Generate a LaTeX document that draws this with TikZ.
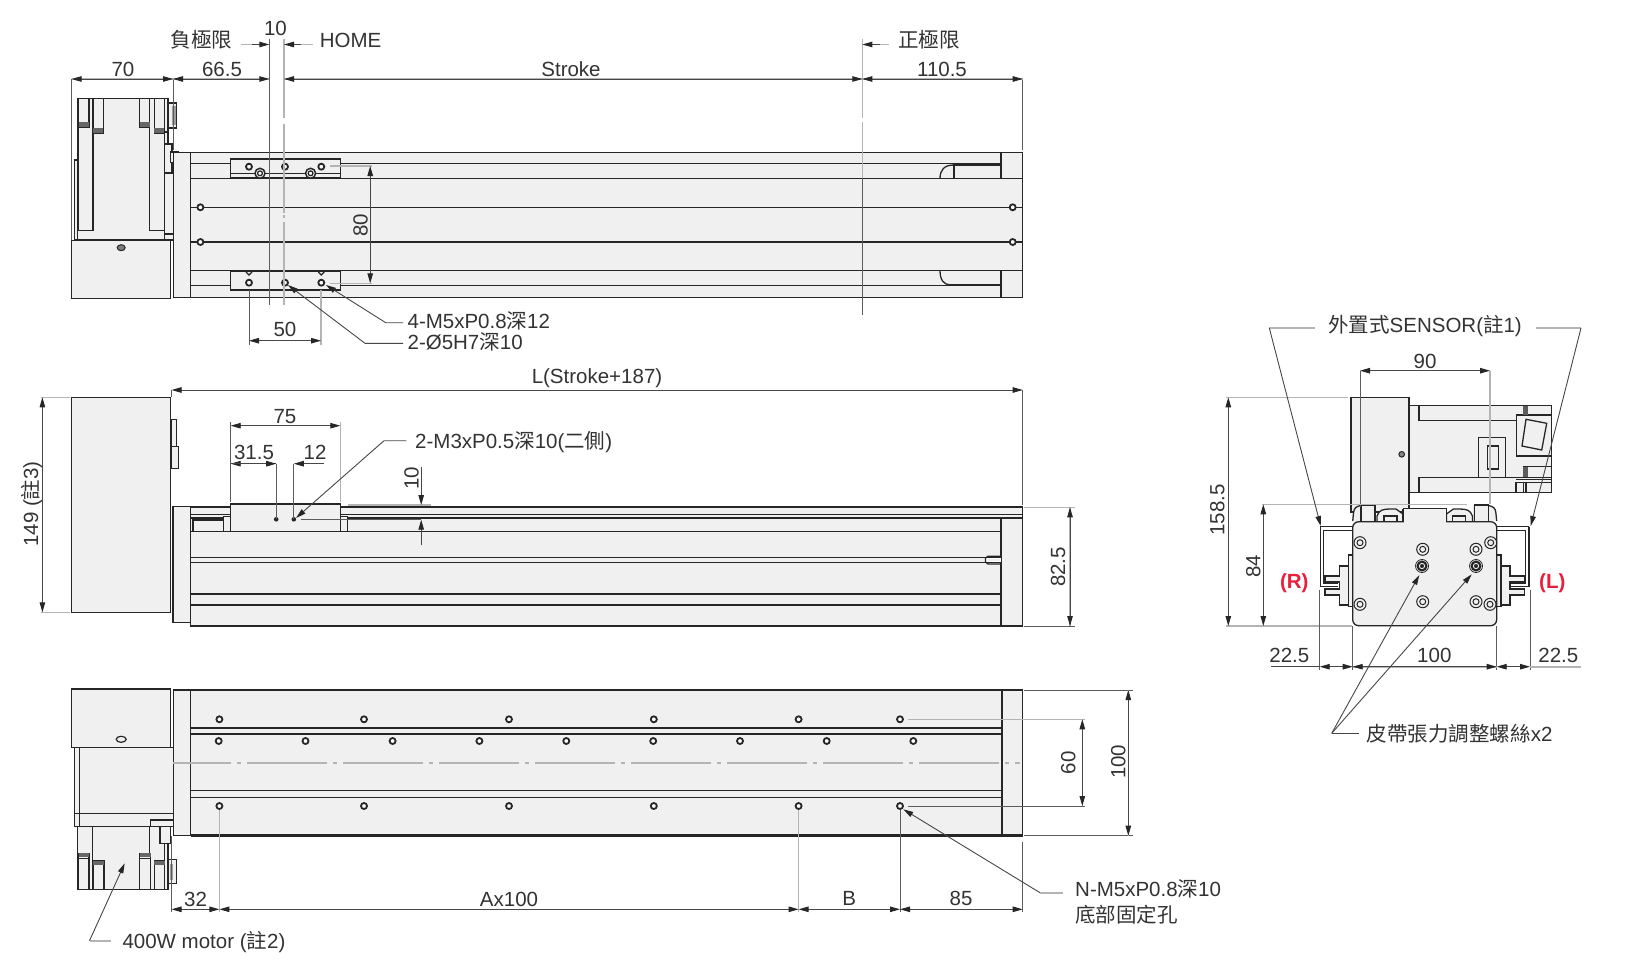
\documentclass[tikz,border=0pt]{standalone}
\usepackage{fontspec}
\setmainfont{Liberation Sans}
\newfontfamily\cjk{Noto Sans CJK TC}
\usetikzlibrary{arrows.meta}
\definecolor{ink}{HTML}{262626}
\definecolor{txt}{HTML}{333333}
\definecolor{lite}{HTML}{F0F0F0}
\definecolor{ext}{HTML}{B4B4B4}
\definecolor{redl}{HTML}{E8203C}
\tikzset{
 >={Triangle[length=10pt,width=5.5pt,color=ink]},
 part/.style={draw=ink,fill=lite,line width=1.3pt},
 ln/.style={draw=ink,line width=1.3pt},
 thk/.style={draw=ink,line width=2.4pt},
 dimk/.style={draw=txt!90,line width=0.9pt},
 ext1/.style={draw=ext,line width=1.6pt},
 ext2/.style={draw=txt!80,line width=0.8pt},
 lab/.style={font=\fontsize{20.5}{22}\selectfont,inner sep=0pt,text=txt},
 rlab/.style={lab,rotate=90},
 redlab/.style={font=\fontsize{20.5}{22}\selectfont\bfseries,inner sep=0pt,text=redl},
 hole/.style={draw=ink,fill=white,line width=1.8pt},
}
\newcommand{\hl}[2]{\draw[hole] (#1,#2) circle (3);}
\newcommand{\fdot}[2]{\fill[ink] (#1,#2) circle (2.3);}
\newcommand{\scw}[2]{\draw[draw=ink,fill=lite,line width=1pt] (#1,#2) circle (6);\draw[draw=ink,fill=lite,line width=1pt] (#1,#2) circle (3);}
\newcommand{\dscw}[2]{\draw[draw=ink,fill=ink,line width=1pt] (#1,#2) circle (5);\draw[draw=white,fill=ink,line width=.8pt] (#1,#2) circle (2.6);\draw[draw=ink,line width=.8pt] (#1,#2) circle (6.5);}
\begin{document}
\begin{tikzpicture}[x=1pt,y=-1pt]
\path[use as bounding box,fill=white] (0,0) rectangle (1626,966);

%% ================= TOP VIEW =================
% motor
\draw[part] (74.4,160) rectangle (77.8,240);
\draw[part] (77.8,98.3) rectangle (168,240);
\foreach \a/\b/\c in {78.5/88.9/127,93/103.3/133,139.5/149.8/127,154.3/164.6/133}{
  \draw[ln,fill=lite] (\a,98.3) rectangle (\b,\c);
  \fill[ink!70] (\a,\c-5) rectangle (\b,\c);
}
\draw[ln] (78.5,127)--(78.5,230.7)--(93,230.7)--(93,133);
\draw[ln] (149.8,127)--(149.8,230.7)--(164.6,230.7);
\draw[ln] (164.6,133)--(164.6,240);
\draw[part] (164.6,98.3) rectangle (168,132);
\draw[part] (168,103) rectangle (176.7,128);
\fill[ink!45] (172,106) rectangle (176,125);
\draw[part] (164.6,144) rectangle (172,173);
\draw[part] (170.5,152) rectangle (178.4,162.3);
\draw[part] (164.6,173) rectangle (173.2,240);
\draw[ln] (164.6,234)--(173.2,234);
\draw[part] (71.6,240.7) rectangle (170.8,298.3);
\draw[draw=ink,fill=ink!60,line width=1pt] (121.2,247.7) ellipse (4 and 3);
% body
\draw[part] (173.2,152.3) rectangle (1022.7,297.3);
\draw[ln] (190.5,152.3)--(190.5,297.3);
\draw[ln] (1001,152.3)--(1001,178.7) (1001,270.7)--(1001,297.3);
\draw[ln] (190.5,163.7)--(955,163.7);
\draw[ln] (190.5,178.7)--(1022.7,178.7);
\draw[ln] (190.5,207.3)--(1022.7,207.3);
\draw[ln] (190.5,242)--(1022.7,242);
\draw[ln] (190.5,270.7)--(1022.7,270.7);
\draw[ln] (190.5,285.3)--(1001,285.3);
\draw[thk] (954,164.3)--(1001,164.3);
\draw[thk] (954,164.3)--(954,178.7);
\draw[ln] (940,178.7) .. controls (940,170) and (944,165) .. (954,165);
\draw[ln] (940,270.7) .. controls (940,280) and (944,284.8) .. (950,284.8);
\draw[thk] (950,284.8)--(1001,284.8);
\foreach \x in {200.4,1012.7}{\hl{\x}{207.3}\hl{\x}{242}}
% carriage
\draw[part] (230.7,159) rectangle (340.3,177.7);
\draw[ln] (230.7,173.3)--(340.3,173.3);
\draw[part] (230.7,271.7) rectangle (340.3,290);
\foreach \x in {249,285,321.3}{\hl{\x}{166.7}\hl{\x}{282.7}}
\foreach \x in {260,310.6}{\draw[hole,line width=1.5pt] (\x,173.3) circle (5);\draw[hole,line width=1.3pt] (\x,173.3) circle (2.4);}
\foreach \x in {249,321.3}{\draw[ln] (\x-3,272)--(\x,275)--(\x+3,272);}
% extension lines
\draw[ext2] (269.3,39)--(269.3,305);
\draw[ext1] (284,39)--(284,118) (284,124)--(284,213) (284,215)--(284,218) (284,222)--(284,305);
\draw[ext1] (862.3,39)--(862.3,118);
\draw[ext1] (862.3,122)--(862.3,178);
\draw[ext2] (862.3,178)--(862.3,315);
\draw[ext2] (71.6,79)--(71.6,240);
\draw[ext2] (173.2,79)--(173.2,150);
\draw[ext2] (1022.7,79)--(1022.7,150);
\draw[ext2] (249,290)--(249,345);
\draw[ext1] (321,290)--(321,345);
% top dims
\draw[ext1] (71.6,79)--(173,79)--(269.3,79);
\draw[ext1] (284,79)--(1022.7,79);
\draw[dimk,<->] (71.6,79)--(173,79);
\draw[dimk,<->] (173,79)--(269.3,79);
\draw[dimk,<->] (284,79)--(862.3,79);
\draw[dimk,<->] (862.3,79)--(1022.7,79);
\draw[ext1] (241,44.5)--(260,44.5) (293,44.5)--(313,44.5) (872,44.5)--(889,44.5);
\draw[dimk,->] (252,44.5)--(269.3,44.5);
\draw[dimk,->] (301,44.5)--(284,44.5);
\draw[dimk,->] (880,44.5)--(862.3,44.5);
\draw[dimk,<->] (249,340.7)--(321,340.7);
\draw[ext1] (330,166)--(372,166) (330,283.3)--(372,283.3);
\draw[dimk,<->] (370.2,166)--(370.2,283.3);
\draw[dimk,->] (403,322.7)--(385.7,322.7)--(326,285);
\draw[dimk,->] (403,343.3)--(365,343.3)--(288,285);
\node[lab] (neglim) at (201.5,39.5) {\cjk 負極限};
\node[lab] (ten) at (275.5,28) {10};
\node[lab,anchor=west] (home) at (319.6,40.5) {HOME};
\node[lab,anchor=west] (poslim) at (898,39.5) {\cjk 正極限};
\node[lab] (d70) at (123,69) {70};
\node[lab] (d665) at (222,69) {66.5};
\node[lab] (strk) at (571,69) {Stroke};
\node[lab] (d1105) at (942,69) {110.5};
\node[lab] (d50) at (285,329) {50};
\node[rlab] (d80) at (360.6,225) {80};
\node[lab,anchor=west] (m5) at (407.4,320.5) {4-M5xP0.8{\cjk 深}12};
\node[lab,anchor=west] (o5) at (407.4,342) {2-Ø5H7{\cjk 深}10};

%% ================= SIDE VIEW =================
\draw[part] (71.6,397.3) rectangle (170.8,612.3);
\draw[part] (171.2,419.3) rectangle (176.7,446.7);
\draw[part] (171.2,446.7) rectangle (178.4,468.7);
\draw[part] (172.9,506.7) rectangle (190.5,622.7);
\draw[part] (190.5,507) rectangle (1022.7,626);
\draw[ln] (1001,519)--(1001,626);
\draw[ln] (190.5,514.3)--(1022.7,514.3);
\draw[thk] (190.5,518)--(1022.7,518);
\foreach \y in {531.7,594}{\draw[ln] (190.5,\y)--(1001,\y);}
\foreach \y in {557.3,562.7,605}{\draw[ln] (190.5,\y)--(1001,\y);}
\draw[draw=white,fill=lite,line width=0pt] (986.7,558.3) rectangle (1000,561.7);
\draw[ln] (1001,556.3)--(988,556.3)--(985.5,558)--(985.5,562)--(988,564)--(1001,564);
\draw[thk] (190.5,626)--(1022.7,626);
\draw[part] (192.9,520) rectangle (223.2,531.7);
\draw[part] (223.2,516.7) rectangle (230.7,531.7);
\draw[part] (340.3,516.7) rectangle (347.2,531.7);
\draw[part] (230.7,504) rectangle (340.3,531.7);
\fdot{276.2}{519.3}\fdot{293.8}{519.3}
% dims
\draw[ext2] (171.5,390)--(171.5,397);
\draw[dimk,<->] (171.5,390)--(1022.7,390);
\draw[ext2] (1022.7,390)--(1022.7,505);
\draw[ext2] (230.7,422)--(230.7,502);
\draw[ext1] (340.3,422)--(340.3,502);
\draw[dimk,<->] (230.7,425.7)--(340.3,425.7);
\draw[dimk,->] (276.2,463.7)--(230.7,463.7);
\draw[dimk,->] (230.7,463.7)--(276.2,463.7);
\draw[dimk,->] (323.7,463.7)--(293.8,463.7);
\draw[ext2] (276.2,463.7)--(276.2,519);
\draw[ext2] (293.8,463.7)--(293.8,519);
\draw[dimk,->] (406.4,440.7)--(384,440.7)--(296,518);
\draw[ext1] (347.8,505)--(430.5,505);
\draw[ext2] (301,519.3)--(421,519.3);
\draw[dimk,->] (421.2,466.7)--(421.2,505);
\draw[dimk,->] (421.2,545)--(421.2,519.7);
\draw[ext1] (41,397.3)--(70,397.3) (41,612.3)--(70,612.3);
\draw[ext1] (42.4,397.3)--(42.4,612.3);
\draw[dimk,<->] (42.4,397.3)--(42.4,612.3);
\draw[ext1] (1024,507.3)--(1075,507.3);
\draw[ext2] (1024,626)--(1075,626);
\draw[ext1] (1070,507.3)--(1070,626);
\draw[dimk,<->] (1070,507.3)--(1070,626);
\node[lab] (lstroke) at (597,378) {L(Stroke+187)};
\node[lab] (d75) at (285,416.5) {75};
\node[lab] (d315) at (254,452) {31.5};
\node[lab] (d12) at (315,452) {12};
\node[lab,anchor=west] (m3) at (415,442) {2-M3xP0.5{\cjk 深}10({\cjk 二側})};
\node[rlab] (d10) at (411.6,478) {10};
\node[rlab] (d149) at (31.7,504) {149 ({\cjk 註}3)};
\node[rlab] (d825) at (1058,567) {82.5};

%% ================= BOTTOM VIEW =================
\draw[part] (77.8,826.7) rectangle (168,889.3);
\draw[ln] (92.3,826.7)--(92.3,889.3) (149.8,826.7)--(149.8,889.3) (164.6,843)--(164.6,889.3);
\foreach \a/\b/\c in {78.5/88.9/853.3,93/104/860.7,139.5/150.8/853.3,154.3/164.6/860.7}{
  \draw[ln,fill=lite] (\a,\c) rectangle (\b,889.3);
  \fill[ink!70] (\a,\c) rectangle (\b,\c+4);
}
\draw[ln] (78.5,858.5)--(88.9,858.5) (139.5,858.5)--(150.8,858.5);
\draw[part] (160,826.7) rectangle (170.5,843.3);
\draw[part] (168.8,859.3) rectangle (176.7,883.3);
\fill[ink!45] (169.5,864) rectangle (173,880);
\draw[part] (74.4,747.3) rectangle (173.2,826.7);
\draw[ln] (79.2,747.3)--(79.2,826.7);
\draw[ln] (74.4,813.3)--(173.2,813.3);
\draw[part] (150.8,820) rectangle (173.2,826.7);
\draw[part] (71.6,689) rectangle (170.8,747.3);
\draw[draw=ink,fill=lite,line width=1.2pt] (121.2,739.3) ellipse (5 and 3);
\draw[part] (173.2,690) rectangle (1022.7,835.5);
\draw[ln] (190.5,690)--(190.5,835.5);
\draw[ln,line width=1.8pt] (1001.7,690)--(1001.7,835.5);
\draw[thk] (190.5,728)--(1001.7,728);
\draw[thk] (190.5,734)--(1001.7,734);
\draw[ln] (190.5,790.7)--(1001.7,790.7);
\draw[ln] (190.5,797.3)--(1001.7,797.3);
\draw[draw=ext,line width=1.6pt,dash pattern=on 80pt off 6pt on 4pt off 6pt,dash phase=22.2pt] (173.2,762.7)--(1020,762.7);
\draw[thk] (190.5,835.5)--(1022.7,835.5);
\foreach \x in {219.4,364,509,653.8,798.6,900}{\hl{\x}{719.3}\hl{\x}{806}}
\foreach \x in {218.7,305.5,392.6,479.4,566.3,653.2,740,826.7,913.3}{\hl{\x}{741}}
% dims
\draw[ext1] (908.3,719.3)--(1085,719.3);
\draw[ext2] (908.3,806)--(1085,806);
\draw[ext1] (1082.3,719.3)--(1082.3,806);
\draw[dimk,<->] (1082.3,719.3)--(1082.3,806);
\draw[ext2] (1024,690)--(1133,690) (1024,835.7)--(1133,835.7);
\draw[ext1] (1128.3,690)--(1128.3,835.7);
\draw[dimk,<->] (1128.3,690)--(1128.3,835.7);
\draw[ext2] (171.5,836)--(171.5,912);
\draw[ext1] (219.4,810)--(219.4,912);
\draw[ext1] (798.6,810)--(798.6,912);
\draw[ext2] (900,810)--(900,912);
\draw[ext2] (1022.7,841.7)--(1022.7,912);
\draw[dimk,<->] (171.5,909.3)--(219.4,909.3);
\draw[dimk,<->] (219.4,909.3)--(798.6,909.3);
\draw[dimk,<->] (798.6,909.3)--(900,909.3);
\draw[dimk,<->] (900,909.3)--(1022.7,909.3);
\draw[ext1] (1040,892.7)--(1063.3,892.7);
\draw[dimk,->] (1040,892.7)--(903.3,809.3);
\draw[ext1] (89.5,940.7)--(110.9,940.7);
\draw[dimk,->] (89.5,940.7)--(124.7,863.3);
\node[rlab] (d60) at (1068.3,762.7) {60};
\node[rlab] (d100) at (1118.3,761.7) {100};
\node[lab] (d32) at (195.6,899) {32};
\node[lab] (dA) at (509,899) {Ax100};
\node[lab] (dB) at (849.3,898.5) {B};
\node[lab] (d85) at (961,898.5) {85};
\node[lab,anchor=west] (nm5) at (1075,889) {N-M5xP0.8{\cjk 深}10};
\node[lab,anchor=west] (hole2) at (1075,915) {\cjk 底部固定孔};
\node[lab,anchor=west] (motor) at (122.3,942.5) {400W motor ({\cjk 註}2)};

%% ================= END VIEW =================
% motor
\draw[part] (1409,405.7) rectangle (1551.7,492.7);
\draw[ln] (1419,405.7)--(1419,420.7)--(1516.7,420.7);
\draw[ln] (1419,492.7)--(1419,477.3)--(1551.7,477.3);
\draw[part] (1516.7,415) rectangle (1551.7,456);
\draw[ln,fill=lite] (1526,419.3)--(1546.7,423.3)--(1541.7,450)--(1522,446)--cycle;
\draw[part] (1478.3,437.3) rectangle (1505.7,477.3);
\draw[part] (1487.3,446) rectangle (1498.3,469);
\fill[ink!75] (1523.3,405.7) rectangle (1528.3,415);
\fill[ink!75] (1523.3,467.3) rectangle (1528.3,477.3);
\draw[ln] (1523.3,466.7)--(1551.7,466.7);
\draw[ln] (1516,479.5)--(1551.7,479.5) (1516,482.7)--(1551.7,482.7);
\draw[part] (1516,482.7) rectangle (1523.3,492.7);
\draw[ln] (1526,482.7)--(1526,492.7);
\draw[part] (1351,397.3) rectangle (1409,512);
\draw[draw=ink,fill=ink!55,line width=1pt] (1401.7,454.3) circle (2.8);
% sensor brackets (left, right mirrored)
\foreach \s/\o in {1/0,-1/2849.4}{
 \begin{scope}[xshift=\o pt,xscale=\s]
  \draw[ln] (1320,526.5)--(1352.7,526.5);
  \draw[ln,line width=1pt] (1323.5,530)--(1352.7,530);
  \draw[ln] (1320.5,526.5)--(1320.5,586.7)--(1338.3,586.7);
  \draw[ln,line width=1pt] (1323.5,530)--(1323.5,583)--(1338.3,583);
  \draw[part] (1348.3,555) rectangle (1352.7,606.7);
  \draw[part] (1339.3,566)--(1348.3,566)--(1348.3,605)--(1339.3,605)--(1339.3,595)--(1325,595)--(1325,589) -- (1339.3,589) -- (1339.3,582)--(1325,582)--(1325,576)--(1339.3,576)--cycle;
  % top profile
  \draw[ln,fill=lite] (1352.7,521)--(1353.5,513) .. controls (1354,508) and (1356,506.5) .. (1361,505.5)--(1375,505.5)--(1375,521.7);
  \draw[part] (1361,505)--(1375,505)--(1375,521.7)--(1361,521.7)--cycle;
  \draw[part] (1377,521.7)--(1377,516) .. controls (1379,510) and (1383,509) .. (1390,509)--(1396,509)--(1403,514)--(1403,521.7)--cycle;
  \draw[ln] (1384,521.7)--(1384,516)--(1397,516)--(1397,521.7);
 \end{scope}
}
\fill[lite] (1403,509) rectangle (1446.7,521.7);
\draw[ln,fill=lite,rounded corners=6pt] (1352.7,521.7) rectangle (1496.7,625.7);
\fill[lite] (1404,518) rectangle (1446,524);
\draw[ln,line width=1.8pt] (1403,508.5)--(1446.7,508.5);
\draw[ln] (1403,508.5)--(1403,521.7) (1446.7,508.5)--(1446.7,521.7);
\foreach \a/\b in {1360/542.7,1490.7/542.7,1422.7/549.3,1476/549.3,1360/604.3,1490/604.3,1422.7/601.7,1476/601.7}{\scw{\a}{\b}}
\dscw{1422}{566}\dscw{1476}{566}
% dims
\draw[ext2] (1360,370.7)--(1360,506.7);
\draw[ext1] (1490,370.7)--(1490,504);
\draw[dimk,<->] (1360,370.7)--(1490,370.7);
\draw[ext1] (1226,397.3)--(1348,397.3);
\draw[ext1] (1262,504.3)--(1466.7,504.3);
\draw[ext1] (1226,626)--(1352,626);
\draw[dimk,<->] (1228.3,397.3)--(1228.3,626);
\draw[dimk,<->] (1263.3,504.3)--(1263.3,626);
\draw[ext2] (1319.7,590)--(1319.7,670);
\draw[ext2] (1352.7,626)--(1352.7,670);
\draw[ext2] (1496.7,626)--(1496.7,670);
\draw[ext2] (1530,590)--(1530,670);
\draw[dimk] (1271,666.7)--(1319.7,666.7);
\draw[ext1] (1530,666.7)--(1581,666.7);
\draw[ext1] (1352.7,666.7)--(1496.7,666.7);
\draw[dimk,<->] (1319.7,666.7)--(1352.7,666.7);
\draw[dimk,<->] (1352.7,666.7)--(1496.7,666.7);
\draw[dimk,<->] (1496.7,666.7)--(1530,666.7);
% leaders
\draw[ext1] (1269.3,328)--(1315,328);
\draw[ext1] (1535.7,328)--(1581,328);
\draw[dimk,->] (1269.3,328)--(1320.7,526);
\draw[dimk,->] (1581,328)--(1530.7,526);
\draw[dimk] (1331.7,733.3)--(1359.3,733.3);
\draw[dimk,->] (1331.7,733.3)--(1419.3,575);
\draw[dimk,->] (1331.7,733.3)--(1471.7,574.3);
\node[lab] (sens) at (1425,325.5) {{\cjk 外置式}SENSOR({\cjk 註}1)};
\node[lab] (d90) at (1425,361.7) {90};
\node[rlab] (d1585) at (1217.3,510) {158.5};
\node[rlab] (d84) at (1253.3,566) {84};
\node[redlab] (rr) at (1294.3,583.3) {(R)};
\node[redlab] (ll) at (1552.3,583.3) {(L)};
\node[lab] (d225a) at (1289.3,655) {22.5};
\node[lab] (d100b) at (1434.3,655) {100};
\node[lab] (d225b) at (1558.3,655) {22.5};
\node[lab,anchor=west] (belt) at (1366.7,733.3) {{\cjk 皮帶張力調整螺絲}x2};
\end{tikzpicture}
\end{document}
